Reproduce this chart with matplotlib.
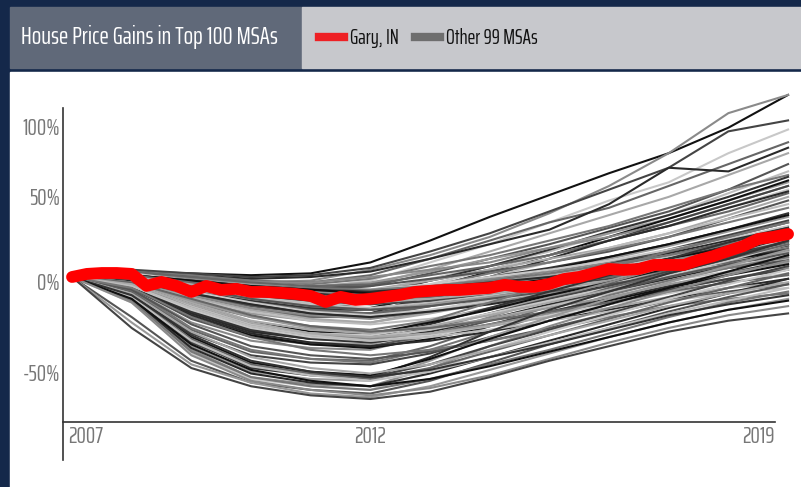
import matplotlib
matplotlib.use('Agg')
import matplotlib.pyplot as plt
from matplotlib.lines import Line2D
from matplotlib.patches import Rectangle
from matplotlib.transforms import ScaledTranslation

plt.rcParams['font.family'] = ['Saira ExtraCondensed', 'Antonio', 'Liberation Sans Narrow', 'DejaVu Sans']

# % change in house prices since 2007
years = list(range(2007, 2020))
quarters = [2007 + 0.25 * i for i in range(49)]

gary = [0, 1.7, 2.2, 2.2, 1.7, -4.9, -2.7, -4.9, -8.2, -4.9, -7.1, -6.5, -8.2,
        -8.2, -8.7, -9.3, -10.4, -13.7, -10.9, -12.6, -12.0, -10.9, -9.8, -8.2, -7.6,
        -7.1, -7.1, -6.5, -6.0, -4.3, -5.4, -5.4, -3.8, -1.1, 0, 2.2, 4.4,
        3.9, 4.4, 6.6, 6.6, 6.6, 9.3, 11.5, 14.3, 17.0, 20.9, 22.0, 23.6]

# other 99 metros, one value per year 2007..2019
others = [
    [0, 3, 2, 1, 2, 8, 20, 33, 45, 57, 68, 82, 100],
    [0, 2, -1, -3, -2, 4, 12, 22, 35, 50, 68, 90, 100],
    [0, 4, 2, 0, 1, 5, 14, 24, 36, 48, 60, 80, 86],
    [0, 1, -4, -6, -6, -2, 8, 18, 30, 42, 52, 68, 81],
    [0, 3, 0, -2, -3, 1, 10, 20, 30, 38, 50, 62, 74],
    [0, 2, 1, -1, 0, 3, 10, 18, 26, 40, 60, 58, 71],
    [0, 2, -2, -5, -7, -4, 4, 14, 24, 34, 44, 56, 68],
    [0, 2, -3, -6, -8, -5, 2, 10, 18, 27, 36, 48, 62],
    [0, 1, -5, -9, -11, -8, -1, 6, 14, 24, 34, 46, 58],
    [0, 3, 1, -2, -4, -1, 6, 12, 20, 28, 38, 48, 56],
    [0, 0, -6, -10, -13, -10, -2, 6, 15, 25, 34, 44, 55],
    [0, 2, -2, -4, -5, -3, 3, 10, 16, 24, 32, 42, 52],
    [0, -1, -8, -14, -17, -14, -6, 3, 12, 22, 32, 42, 53],
    [0, 2, -1, -3, -3, 0, 4, 8, 16, 22, 30, 40, 50],
    [0, 1, -4, -8, -10, -8, -2, 4, 12, 20, 30, 40, 50],
    [0, 0, -7, -12, -15, -12, -4, 4, 12, 20, 28, 38, 48],
    [0, 3, 0, -3, -5, -4, 1, 6, 12, 20, 28, 36, 46],
    [0, -2, -10, -18, -22, -20, -10, 0, 10, 20, 28, 38, 47],
    [0, 1, -3, -6, -8, -7, -2, 4, 10, 16, 24, 34, 44],
    [0, 2, -2, -5, -6, -5, -1, 3, 8, 14, 22, 32, 42],
    [0, -1, -6, -12, -16, -14, -7, 0, 8, 16, 24, 32, 40],
    [0, 1, -5, -9, -11, -10, -5, 2, 8, 15, 22, 30, 38],
    [0, 1, -4, -8, -10, -9, -5, 0, 5, 11, 18, 26, 35],
    [0, 0, -6, -11, -14, -13, -8, -2, 4, 10, 17, 25, 33],
    [0, -2, -9, -15, -18, -17, -10, -3, 4, 11, 18, 26, 34],
    [0, 1, -3, -6, -8, -8, -5, -1, 3, 8, 14, 22, 30],
    [0, -1, -8, -14, -18, -18, -13, -7, 0, 7, 15, 23, 31],
    [0, 2, -2, -5, -7, -7, -4, 0, 4, 9, 15, 21, 28],
    [0, -3, -12, -18, -22, -22, -16, -9, -2, 6, 14, 22, 30],
    [0, 0, -5, -10, -13, -13, -9, -4, 1, 7, 13, 20, 27],
    [0, 1, -3, -7, -9, -10, -7, -3, 1, 6, 12, 19, 26],
    [0, -2, -10, -16, -20, -21, -15, -8, -2, 5, 12, 19, 26],
    [0, 0, -6, -11, -14, -15, -11, -6, -1, 5, 11, 18, 25],
    [0, 1, -2, -5, -6, -7, -5, -2, 2, 7, 12, 18, 24],
    [0, -1, -7, -13, -17, -18, -13, -7, -2, 4, 10, 17, 24],
    [0, -3, -13, -20, -24, -25, -19, -12, -5, 2, 9, 16, 23],
    [0, 0, -4, -8, -11, -12, -9, -5, -1, 4, 10, 16, 22],
    [0, 1, -3, -6, -8, -9, -7, -4, 0, 4, 9, 15, 21],
    [0, -2, -9, -15, -19, -20, -15, -9, -4, 2, 8, 14, 21],
    [0, 0, -5, -9, -12, -13, -10, -6, -2, 3, 8, 14, 20],
    [0, -1, -8, -14, -18, -20, -16, -11, -5, 1, 7, 13, 19],
    [0, 1, -2, -5, -7, -8, -6, -3, 0, 4, 8, 13, 18],
    [0, -2, -11, -18, -23, -25, -20, -14, -8, -2, 5, 11, 18],
    [0, 0, -4, -8, -11, -12, -10, -6, -3, 1, 6, 11, 17],
    [0, -1, -6, -11, -15, -17, -14, -10, -5, 0, 5, 10, 16],
    [0, -3, -14, -22, -27, -29, -24, -17, -10, -3, 4, 10, 16],
    [0, 0, -3, -7, -9, -11, -9, -6, -3, 1, 5, 10, 15],
    [0, -1, -7, -12, -16, -18, -15, -11, -7, -2, 3, 9, 14],
    [0, 1, -2, -5, -7, -9, -8, -5, -2, 2, 6, 10, 14],
    [0, -2, -10, -17, -21, -23, -19, -14, -9, -3, 3, 8, 13],
    [0, 0, -5, -10, -13, -15, -13, -9, -5, -1, 4, 8, 12],
    [0, -1, -8, -14, -19, -21, -18, -13, -8, -3, 2, 7, 12],
    [0, 1, -3, -7, -10, -12, -11, -8, -4, 0, 4, 8, 11],
    [0, -2, -9, -15, -20, -22, -19, -15, -10, -5, 0, 5, 10],
    [0, 0, -4, -9, -12, -14, -12, -9, -6, -2, 2, 6, 10],
    [0, -1, -6, -12, -16, -18, -16, -12, -8, -4, 1, 5, 9],
    [0, -3, -12, -19, -24, -26, -23, -18, -12, -7, -2, 3, 8],
    [0, -5, -20, -30, -34, -33, -24, -14, -4, 5, 14, 22, 30],
    [0, -4, -18, -28, -32, -33, -26, -17, -8, 1, 10, 19, 27],
    [0, -6, -22, -32, -36, -37, -29, -20, -11, -2, 7, 16, 25],
    [0, -3, -15, -25, -30, -31, -25, -18, -10, -3, 5, 13, 22],
    [0, -7, -25, -35, -39, -40, -32, -22, -12, -3, 6, 14, 22],
    [0, -5, -19, -29, -33, -34, -28, -20, -12, -5, 3, 11, 20],
    [0, -4, -17, -27, -31, -32, -27, -20, -13, -6, 1, 9, 18],
    [0, -8, -29, -41, -45, -46, -38, -27, -16, -6, 2, 10, 18],
    [0, -5, -20, -30, -34, -35, -30, -23, -15, -8, -1, 7, 15],
    [0, -3, -14, -24, -29, -31, -27, -21, -14, -7, 0, 7, 14],
    [0, -6, -23, -33, -37, -38, -32, -24, -16, -8, 0, 7, 13],
    [0, -4, -16, -26, -31, -33, -29, -23, -16, -9, -2, 5, 12],
    [0, -7, -28, -40, -45, -47, -40, -30, -20, -10, -2, 5, 11],
    [0, -5, -19, -29, -34, -36, -32, -26, -19, -12, -5, 2, 9],
    [0, -3, -13, -22, -28, -30, -28, -23, -17, -11, -4, 2, 8],
    [0, -6, -22, -32, -37, -39, -34, -27, -20, -13, -6, 1, 7],
    [0, -4, -17, -27, -32, -34, -31, -26, -20, -14, -7, -1, 5],
    [0, -9, -31, -43, -47, -48, -42, -33, -24, -15, -7, -1, 4],
    [0, -5, -18, -28, -33, -35, -32, -27, -21, -15, -9, -3, 2],
    [0, -3, -12, -21, -27, -30, -28, -24, -19, -14, -8, -3, 1],
    [0, -6, -21, -31, -36, -38, -35, -30, -24, -18, -12, -6, -1],
    [0, -4, -15, -25, -31, -33, -31, -27, -22, -17, -11, -6, -3],
    [0, -7, -26, -38, -43, -45, -41, -35, -28, -20, -13, -8, -4],
    [0, -5, -17, -27, -32, -35, -33, -29, -24, -19, -13, -9, -6],
    [0, -6, -22, -33, -40, -43, -40, -35, -29, -22, -16, -12, -9],
    [0, -10, -35, -50, -54, -55, -44, -30, -18, -8, 2, 10, 20],
    [0, -12, -38, -52, -56, -57, -46, -33, -22, -12, -3, 6, 15],
    [0, -9, -33, -47, -52, -54, -45, -34, -24, -15, -6, 3, 12],
    [0, -13, -40, -55, -59, -60, -50, -38, -27, -17, -8, 1, 9],
    [0, -11, -36, -49, -53, -55, -48, -38, -29, -20, -11, -2, 6],
    [0, -14, -42, -56, -60, -62, -52, -40, -30, -21, -12, -4, 4],
    [0, -10, -34, -48, -53, -56, -50, -41, -32, -23, -14, -6, 2],
    [0, -12, -39, -53, -58, -60, -53, -44, -35, -26, -17, -9, -1],
    [0, -9, -30, -44, -50, -53, -48, -40, -32, -24, -16, -9, -3],
    [0, -22, -46, -58, -62, -64, -57, -47, -37, -28, -19, -11, -4],
    [0, -11, -35, -49, -54, -57, -52, -44, -36, -28, -20, -13, -6],
    [0, -13, -41, -55, -60, -62, -56, -48, -40, -31, -22, -14, -8],
    [0, -10, -32, -46, -52, -55, -51, -44, -37, -29, -21, -15, -10],
    [0, -25, -48, -58, -64, -66, -60, -51, -42, -33, -25, -18, -12],
    [0, -12, -37, -51, -57, -60, -56, -49, -41, -33, -25, -18, -13],
    [0, -14, -43, -57, -62, -65, -61, -54, -45, -36, -28, -21, -16],
    [0, -28, -50, -60, -65, -67, -63, -55, -46, -38, -30, -24, -20],
]

tick_years = [2007, 2012, 2019]
# tick labels sit where the original artwork put them
ytick_pos = [-52.7, -2.7, 44.0, 82.4]
ytick_labels = ['-50%', '0%', '50%', '100%']

shades = ['#111111', '#8a8a8a', '#444444', '#c8c8c8', '#666666', '#2a2a2a',
          '#a8a8a8', '#555555', '#bdbdbd', '#777777', '#333333', '#999999']

fig = plt.figure(figsize=(8.01, 4.87), dpi=100, facecolor='#14284a')
W, H = 801.0, 487.0

def box(x0, y0, x1, y1, color):
    fig.patches.append(Rectangle((x0 / W, 1 - y1 / H), (x1 - x0) / W, (y1 - y0) / H,
                                 transform=fig.transFigure, color=color, zorder=-5))

box(10, 72, 801, 487, 'white')
box(10, 7, 302, 68, '#606979')
box(302, 7, 801, 68, '#c7c8cc')

fig.text(21 / W, 1 - 37 / H, 'House Price Gains in Top 100 MSAs', color='white',
         fontsize=18, va='center', ha='left')

ax = fig.add_axes([63 / W, 27 / H, 729 / W, 370 / H])
ax.patch.set_visible(False)

for i, row in enumerate(others):
    ax.plot(years, row, color=shades[i % len(shades)], lw=1.5, zorder=2)
ax.plot(quarters, gary, color='#ff0000', lw=8.5, solid_capstyle='round',
        solid_joinstyle='round', zorder=3, clip_on=False)

ax.set_xlim(2006.849, 2019.066)
ax.set_ylim(-100.5, 102.7)

for s in ['top', 'right']:
    ax.spines[s].set_visible(False)
ax.spines['left'].set_bounds(-100.5, 92.9)
ax.spines['bottom'].set_position(('data', -79.7))
ax.spines['bottom'].set_bounds(2006.849, 2018.78)
for s in ['left', 'bottom']:
    ax.spines[s].set_color('#333333')
    ax.spines[s].set_linewidth(1.2)

ax.set_xticks(tick_years)
ax.set_xticklabels([str(y) for y in tick_years])
ax.set_yticks(ytick_pos)
ax.set_yticklabels(ytick_labels)
ax.tick_params(length=0, labelsize=17, labelcolor='#777777')
ax.tick_params(axis='x', pad=3)
ax.tick_params(axis='y', pad=2)

xl = ax.get_xticklabels()
xl[0].set_ha('left')
xl[0].set_transform(xl[0].get_transform() + ScaledTranslation(-4 / 100, 0, fig.dpi_scale_trans))
xl[2].set_ha('right')
xl[2].set_transform(xl[2].get_transform() + ScaledTranslation(-13 / 100, 0, fig.dpi_scale_trans))

handles = [Line2D([], [], color='#ee2024', lw=6),
           Line2D([], [], color='#6e6e6e', lw=6)]
fig.legend(handles, ['Gary, IN', 'Other 99 MSAs'], loc='center left',
           bbox_to_anchor=(319 / W, 1 - 38 / H), ncol=2, frameon=False,
           borderpad=0, borderaxespad=0, fontsize=15, handlelength=1.2,
           handletextpad=0.3, columnspacing=0.75, labelcolor='#111111')

fig.savefig('out.png', dpi=100, facecolor=fig.get_facecolor())
